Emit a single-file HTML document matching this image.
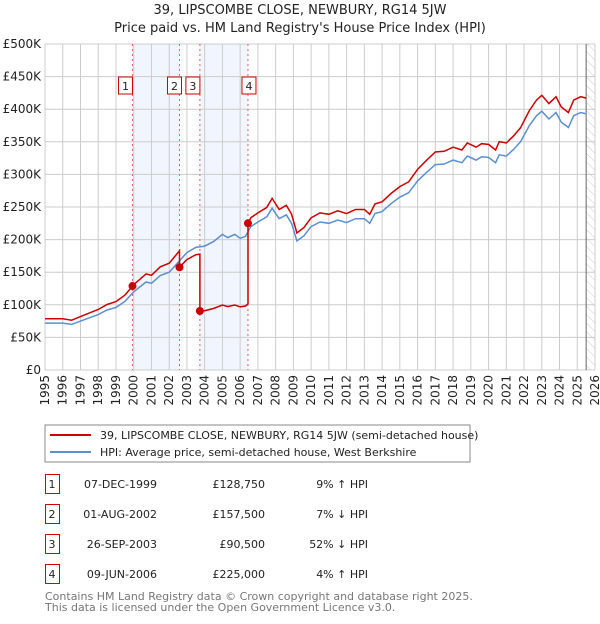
<!DOCTYPE html>
<html><head><meta charset="utf-8"><style>
body{margin:0;background:#fff;font-family:"DejaVu Sans","Liberation Sans",sans-serif;}
svg text{font-family:"DejaVu Sans","Liberation Sans",sans-serif;}
</style></head><body>
<svg id="c" width="600" height="620" viewBox="0 0 600 620" xmlns="http://www.w3.org/2000/svg">
<text x="300" y="14" text-anchor="middle" font-size="13" fill="#222">39, LIPSCOMBE CLOSE, NEWBURY, RG14 5JW</text>
<text x="300" y="32" text-anchor="middle" font-size="13" fill="#222">Price paid vs. HM Land Registry's House Price Index (HPI)</text>
<defs><pattern id="hatch" width="6" height="6" patternUnits="userSpaceOnUse" patternTransform="rotate(-45)"><line x1="0" y1="0" x2="0" y2="6" stroke="#ccc" stroke-width="1"/></pattern></defs>
<g id="plot"></g>
<rect x="45" y="425" width="425" height="37" fill="#fff" stroke="#888"/>
<line x1="50" y1="435" x2="91" y2="435" stroke="#cc0000" stroke-width="2"/>
<text x="100" y="439" font-size="11" fill="#222">39, LIPSCOMBE CLOSE, NEWBURY, RG14 5JW (semi-detached house)</text>
<line x1="50" y1="452" x2="91" y2="452" stroke="#5b8fd0" stroke-width="2"/>
<text x="100" y="456" font-size="11" fill="#222">HPI: Average price, semi-detached house, West Berkshire</text>
<g id="table" font-size="11" fill="#222"></g>
<text x="45" y="600" font-size="11" fill="#777">Contains HM Land Registry data © Crown copyright and database right 2025.</text>
<text x="45" y="611" font-size="11" fill="#777">This data is licensed under the Open Government Licence v3.0.</text>
</svg>
<script>
const hpiT=[1995,1996,1996.5,1997,1998,1998.5,1999,1999.5,2000,2000.7,2001,2001.5,2002,2002.6,2003,2003.5,2004,2004.5,2005,2005.3,2005.7,2006,2006.3,2006.6,2007,2007.5,2007.8,2008.2,2008.6,2008.9,2009.2,2009.6,2010,2010.5,2011,2011.5,2012,2012.5,2013,2013.3,2013.6,2014,2014.5,2015,2015.5,2016,2016.5,2017,2017.5,2018,2018.5,2018.8,2019.3,2019.6,2020,2020.4,2020.6,2021,2021.4,2021.8,2022.3,2022.7,2023,2023.4,2023.8,2024.1,2024.5,2024.8,2025.2,2025.5];
const hpiV=[72,72,70,75,85,92,96,105,120,135,133,145,150,168,180,188,190,197,208,203,208,202,205,220,227,235,248,232,238,225,198,206,220,227,225,230,226,232,232,225,240,243,255,265,272,290,303,315,316,322,318,328,322,327,326,318,330,328,338,350,375,390,397,385,395,380,372,390,395,393];
const saleT=[1999.93,2002.58,2003.73,2006.44];
const saleV=[128.75,157.5,90.5,225];
const saleLabels=["1","2","3","4"];
const saleDates=["07-DEC-1999","01-AUG-2002","26-SEP-2003","09-JUN-2006"];
const salePrices=["£128,750","£157,500","£90,500","£225,000"];
const saleHpi=["9% ↑ HPI","7% ↓ HPI","52% ↓ HPI","4% ↑ HPI"];
const yTicks=[0,50,100,150,200,250,300,350,400,450,500];
const xTicks=[1995,1996,1997,1998,1999,2000,2001,2002,2003,2004,2005,2006,2007,2008,2009,2010,2011,2012,2013,2014,2015,2016,2017,2018,2019,2020,2021,2022,2023,2024,2025,2026];
const NS="http://www.w3.org/2000/svg";
const X0=45,X1=595,Y0=370,Y1=44;
const x=t=>X0+(t-1995)/31*(X1-X0);
const y=v=>Y0-v/500*(Y0-Y1);
const g=document.getElementById('plot');
function mk(tag,attrs,parent){const e=document.createElementNS(NS,tag);for(const k in attrs)e.setAttribute(k,attrs[k]);(parent||g).appendChild(e);return e;}
function hpiAt(t){for(let i=0;i<hpiT.length-1;i++){if(t<=hpiT[i+1]){const f=(t-hpiT[i])/(hpiT[i+1]-hpiT[i]);return hpiV[i]+f*(hpiV[i+1]-hpiV[i]);}}return hpiV[hpiV.length-1];}
for(let i=0;i<saleT.length;i+=2){const r=mk('rect',{x:x(saleT[i]),y:Y1,width:x(saleT[i+1])-x(saleT[i]),height:Y0-Y1,fill:'#f1f5fd'});

}
const hr=mk('rect',{x:x(2025.5),y:Y1,width:X1-x(2025.5),height:Y0-Y1,fill:'url(#hatch)'});


yTicks.forEach(v=>{const l=mk('line',{x1:X0,x2:X1,y1:y(v),y2:y(v),stroke:'#ccc'});


const t=mk('text',{x:X0-4,y:y(v)+4,'text-anchor':'end','font-size':12,fill:'#222'});t.textContent='£'+(v?v+'K':'0');

});
xTicks.forEach(v=>{const l=mk('line',{x1:x(v),x2:x(v),y1:Y1,y2:Y0,stroke:'#ccc'});


const t=mk('text',{x:0,y:0,'text-anchor':'end','font-size':12,fill:'#222',transform:`translate(${x(v)+4},${Y0+5}) rotate(-90)`});t.textContent=v;

});
const vl=mk('line',{x1:x(2025.5),x2:x(2025.5),y1:Y1,y2:Y0,stroke:'#666'});


saleT.forEach((t,i)=>{const l=mk('line',{x1:x(t),x2:x(t),y1:Y1,y2:Y0,stroke:'#e06060','stroke-dasharray':'2,3'});


const bx=x(t)-(i==0||i==2?7:i==1?5:-1)-7;
const r=mk('rect',{x:bx,y:77,width:14,height:17,fill:'#fff',stroke:'#cc0000'});


const tx=mk('text',{x:bx+7,y:90,'text-anchor':'middle','font-size':11,fill:'#222'});tx.textContent=saleLabels[i];

});
let d=hpiT.map((t,i)=>(i?'L':'M')+x(t).toFixed(1)+','+y(hpiV[i]).toFixed(1)).join('');
const hp=mk('path',{d:d,fill:'none',stroke:'#5b8fd0','stroke-width':1.5});


const ratios=saleT.map((t,i)=>saleV[i]/hpiAt(t));
function ratioAt(t){let r=ratios[0];for(let i=0;i<saleT.length;i++)if(t>=saleT[i])r=ratios[i];return r;}
let pts=[];const times=hpiT.concat(saleT).sort((a,b)=>a-b);
times.forEach(t=>{const si=saleT.indexOf(t);if(si>0){const h=hpiAt(t);pts.push([t,h*ratios[si-1]]);pts.push([t,saleV[si]]);}else if(si==0){pts.push([t,saleV[0]]);}else pts.push([t,hpiAt(t)*ratioAt(t)]);});
d=pts.map((p,i)=>(i?'L':'M')+x(p[0]).toFixed(1)+','+y(p[1]).toFixed(1)).join('');
const pp=mk('path',{d:d,fill:'none',stroke:'#cc0000','stroke-width':1.5});


saleT.forEach((t,i)=>{const c=mk('circle',{cx:x(t),cy:y(saleV[i]),r:4,fill:'#cc0000'});

});
const tb=document.getElementById('table');
saleT.forEach((t,i)=>{const cy=484+i*30;
const r=mk('rect',{x:45.5,y:cy-9.5,width:14,height:19,fill:'none',stroke:'#cc0000'},tb);


const cells=[[52,'middle',saleLabels[i]],[157,'end',saleDates[i]],[265,'end',salePrices[i]],[368,'end',saleHpi[i]]];
cells.forEach(c=>{const e=mk('text',{x:c[0],y:cy+4,'text-anchor':c[1],'font-size':11,fill:'#222'},tb);e.textContent=c[2];

});});
</script>
</body></html>
